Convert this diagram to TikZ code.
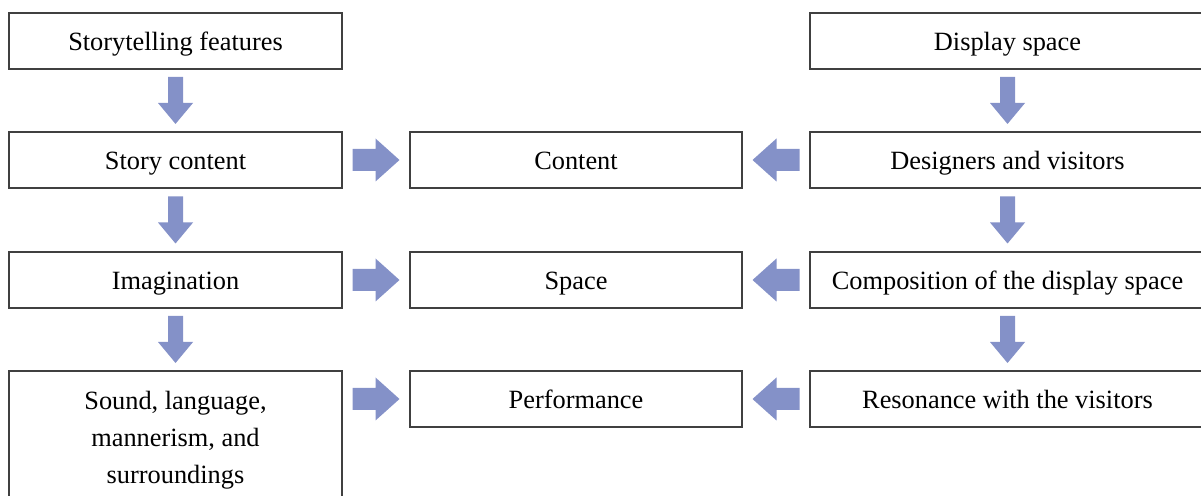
\documentclass[tikz,border=0pt]{standalone}
\usepackage{fontspec}
\setmainfont{Liberation Serif}
\usetikzlibrary{calc}

\definecolor{arrowblue}{HTML}{8491C8}

% fat block arrows between two boxes
\newcommand{\downblock}[2]{%
  \fill[arrowblue] ($(#1.south)!0.5!(#2.north)$) ++(-0.15,0.47) -- ++(0,-0.52) -- ++(-0.2,0)
    -- ++(0.35,-0.42) -- ++(0.35,0.42) -- ++(-0.2,0) -- ++(0,0.52) -- cycle;}
\newcommand{\rightblock}[2]{%
  \fill[arrowblue] ($(#1.east)!0.5!(#2.west)$) ++(-0.47,0.22) -- ++(0.46,0) -- ++(0,0.21)
    -- ++(0.48,-0.43) -- ++(-0.48,-0.43) -- ++(0,0.21) -- ++(-0.46,0) -- cycle;}
\newcommand{\leftblock}[2]{%
  \fill[arrowblue] ($(#1.west)!0.5!(#2.east)$) ++(0.47,0.22) -- ++(-0.46,0) -- ++(0,0.21)
    -- ++(-0.48,-0.43) -- ++(0.48,-0.43) -- ++(0,0.21) -- ++(0.46,0) -- cycle;}

\begin{document}
\begin{tikzpicture}[
    cell/.style={draw=black!75, line width=0.8pt, minimum height=1.12cm, inner sep=2pt,
      align=center, font=\fontsize{15}{21}\selectfont},
    one line/.style={text height=14pt, text depth=2.7pt},
    left cell/.style={cell, minimum width=6.66cm},
    mid cell/.style={cell, one line, minimum width=6.64cm},
    right cell/.style={cell, one line, minimum width=7.9cm}]
    \useasboundingbox (0,0) rectangle (24.02,9.90);
    \clip (0,0) rectangle (24.02,9.90);

    % story side
    \node[left cell, one line] (sf) at (3.51,9.08) {Storytelling features};
    \node[left cell, one line] (sc) at (3.51,6.70) {Story content};
    \node[left cell, one line] (im) at (3.51,4.30) {Imagination};
    \node[left cell, minimum height=2.76cm] (sl) at (3.51,1.10)
        {Sound, language,\\ mannerism, and\\ surroundings};

    % middle column
    \node[mid cell] (co) at (11.52,6.70) {Content};
    \node[mid cell] (sp) at (11.52,4.30) {Space};
    \node[mid cell] (pf) at (11.52,1.92) {Performance};

    % display side
    \node[right cell] (ds) at (20.15,9.08) {Display space};
    \node[right cell] (dv) at (20.15,6.70) {Designers and visitors};
    \node[right cell] (cd) at (20.15,4.30) {Composition of the display space};
    \node[right cell] (rv) at (20.15,1.92) {Resonance with the visitors};

    \downblock{sf}{sc}
    \downblock{sc}{im}
    \downblock{im}{sl}
    \downblock{ds}{dv}
    \downblock{dv}{cd}
    \downblock{cd}{rv}

    \rightblock{sc}{co}
    \rightblock{im}{sp}
    \rightblock{sl.north east |- pf}{pf}
    \leftblock{dv}{co}
    \leftblock{cd}{sp}
    \leftblock{rv}{pf}
\end{tikzpicture}
\end{document}
